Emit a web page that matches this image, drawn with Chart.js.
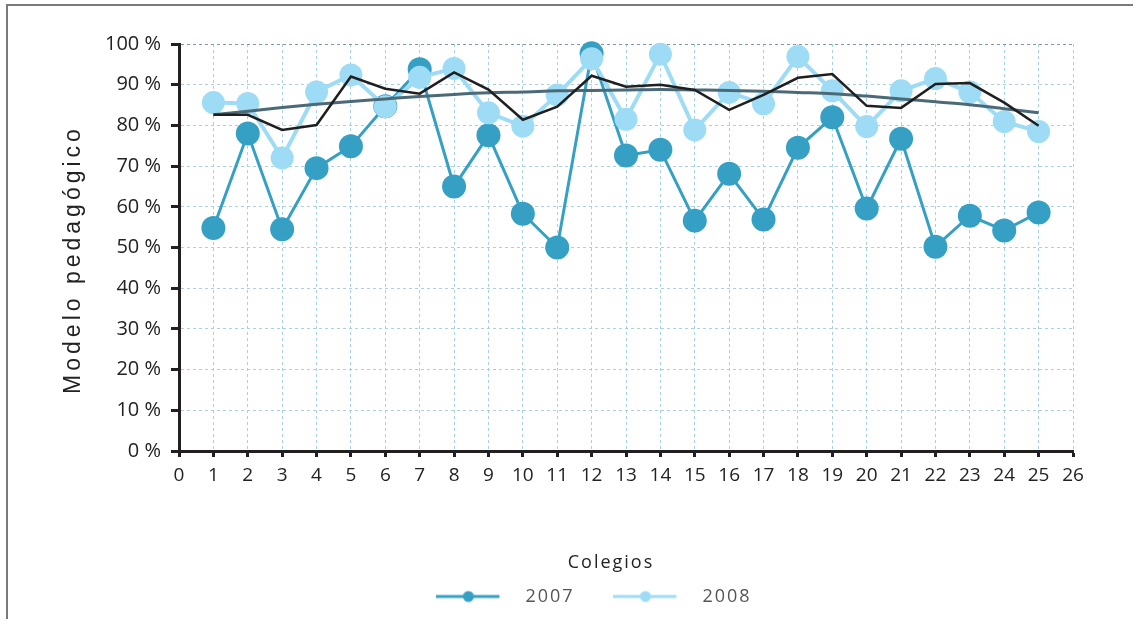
<!DOCTYPE html>
<html><head><meta charset="utf-8">
<script src="https://cdn.jsdelivr.net/npm/chart.js@4.4.1/dist/chart.umd.min.js"></script>
<style>
html,body{margin:0;padding:0;background:#fff;}
#wrap{position:relative;width:1133px;height:619px;overflow:hidden;}
#frame{position:absolute;left:6px;top:4px;right:-10px;bottom:-10px;border-top:2px solid #7a7a7a;border-left:2px solid #7a7a7a;}
canvas{position:absolute;left:0;top:0;}
</style></head><body>
<div id="wrap"><div id="frame"></div><canvas id="c" width="1133" height="619"></canvas></div>
<script>
const colegios = [1,2,3,4,5,6,7,8,9,10,11,12,13,14,15,16,17,18,19,20,21,22,23,24,25];
const anio2007 = [54.8,78.0,54.5,69.5,74.9,84.7,93.8,65.0,77.6,58.3,50.0,97.7,72.6,74.0,56.6,68.1,56.9,74.5,82.0,59.6,76.7,50.2,57.8,54.2,58.6];
const anio2008 = [85.6,85.4,72.0,88.2,92.4,84.6,91.8,94.0,83.1,79.8,87.5,96.4,81.5,97.5,78.9,88.1,85.3,96.9,88.5,79.7,88.5,91.5,88.2,80.9,78.5];
const promedio = [82.6,82.6,78.9,80.1,92.0,89.0,87.8,93.0,88.8,81.4,84.6,92.2,89.5,90.0,88.7,83.8,87.5,91.7,92.6,84.8,84.3,90.2,90.4,85.6,79.9];
const tendencia = [82.6,83.5,84.4,85.2,85.9,86.5,87.1,87.6,88.0,88.2,88.5,88.6,88.7,88.8,88.7,88.6,88.4,88.1,87.8,87.2,86.5,85.8,85.1,84.1,83.1];
const xTicks = [0,1,2,3,4,5,6,7,8,9,10,11,12,13,14,15,16,17,18,19,20,21,22,23,24,25,26];
const yTicks = [0,10,20,30,40,50,60,70,80,90,100];
const serieNames = ['2007','2008','Promedio','Tendencia'];
const legendTitle = 'Colegios';
const yTitle = 'Modelo pedagógico';

const C07 = '#35a0c4', C08 = '#9edcf6';

function legendLine(color){
  const cv = document.createElement('canvas');
  cv.width = 80; cv.height = 14;
  const g = cv.getContext('2d');
  g.strokeStyle = color; g.lineWidth = 3;
  g.beginPath(); g.moveTo(0,7); g.lineTo(63,7); g.stroke();
  g.fillStyle = color; g.beginPath(); g.arc(32,7,5.5,0,Math.PI*2); g.fill();
  return cv;
}
const legendImgs = [legendLine(C07), legendLine(C08)];

const pts = arr => colegios.map((c,i)=>({x:c,y:arr[i]}));

function wrap(obj, name, fn){
  const orig = obj[name];
  if (typeof orig !== 'function') return false;
  obj[name] = function(...a){ const c = this.ctx || obj.ctx; c.save(); fn(c); const r = orig.apply(this, a); c.restore(); return r; };
  return true;
}

const textTweaks = {
  id:'textTweaks',
  beforeUpdate(chart){
    const lg = chart.legend;
    if (lg && !lg._tw){
      lg._tw = true;
      wrap(lg, 'fit', c=>{ c.letterSpacing='2px'; });
      wrap(lg, 'draw', c=>{ c.letterSpacing='2px'; c.translate(27.5,0); });
      wrap(lg, 'drawTitle', c=>{ c.translate(17,1); });
    }
  },
  beforeDraw(chart){
    const y = chart.scales.y;
    if (y && !y._tw){
      y._tw = true;
      wrap(y, 'drawTitle', c=>{ c.letterSpacing='4px'; c.translate(-4,12); });
    }
  }
};

Chart.defaults.font.family = "'Open Sans', sans-serif";

new Chart(document.getElementById('c'), {
  type:'line',
  data:{ datasets:[
    {label:serieNames[0], data:pts(anio2007), borderColor:C07, backgroundColor:C07, borderWidth:3,
     pointRadius:12, pointHoverRadius:12, pointBorderWidth:0, tension:0, order:3, clip:false},
    {label:serieNames[1], data:pts(anio2008), borderColor:C08, backgroundColor:C08, borderWidth:4,
     pointRadius:11.5, pointHoverRadius:11.5, pointBorderWidth:0, tension:0, order:2, clip:false},
    {label:serieNames[2], data:pts(promedio), borderColor:'#1f1f1f', borderWidth:2.5, pointRadius:0, tension:0, order:0, clip:false},
    {label:serieNames[3], data:pts(tendencia), borderColor:'#4b6977', borderWidth:3, pointRadius:0,
     cubicInterpolationMode:'monotone', order:1, clip:false}
  ]},
  options:{
    responsive:false, animation:false, events:[],
    layout:{padding:{left:60,right:60,top:44,bottom:3.5}},
    plugins:{
      tooltip:{enabled:false},
      legend:{
        position:'bottom',
        title:{display:true, text:legendTitle, color:'#222', font:{size:18}, padding:{top:0,bottom:-25.4}},
        labels:{
          usePointStyle:true, pointStyleWidth:80, padding:38.8, color:'#555', font:{size:18},
          filter:(item)=>item.datasetIndex<2,
          sort:(a,b)=>a.datasetIndex-b.datasetIndex,
          generateLabels:(chart)=>{
            const items = Chart.defaults.plugins.legend.labels.generateLabels(chart);
            items.forEach(it=>{ if (it.datasetIndex<2) it.pointStyle = legendImgs[it.datasetIndex]; });
            return items;
          }
        }
      }
    },
    scales:{
      x:{type:'linear', min:xTicks[0], max:xTicks[xTicks.length-1],
        ticks:{stepSize:1, autoSkip:false, maxRotation:0, color:'#222', font:{size:19}, padding:7},
        grid:{color:'#a9d0e3', lineWidth:1, tickLength:6, tickColor:'#231f20', tickWidth:3},
        border:{display:true, color:'#231f20', width:3, dash:[3,3]},
        afterFit:(s)=>{ s.height = 101.5; }
      },
      y:{min:yTicks[0], max:yTicks[yTicks.length-1],
        ticks:{stepSize:10, color:'#222', font:{size:20}, padding:10, callback:(v)=>v+' %'},
        grid:{color:(c)=> (c.tick && c.tick.value===100) ? '#7d98a8' : '#a9d0e3', lineWidth:1, tickLength:8, tickColor:'#231f20', tickWidth:3},
        border:{display:true, color:'#231f20', width:3, dash:[3,3]},
        title:{display:true, text:yTitle, color:'#222', font:{family:"'Liberation Sans', Arial, sans-serif", size:23}},
        afterFit:(s)=>{ s.width = 119; }
      }
    }
  },
  plugins:[textTweaks]
});
</script>
</body></html>
